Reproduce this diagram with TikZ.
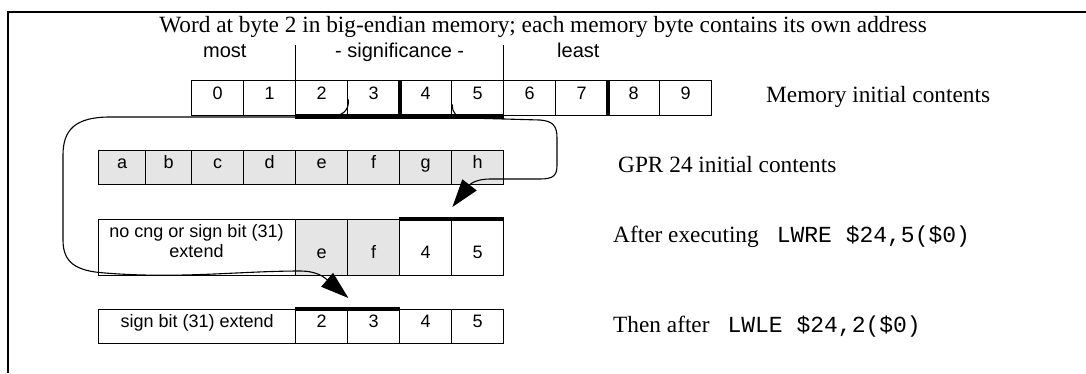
\documentclass[tikz,border=0pt]{standalone}
\usepackage{fontspec}
\setmainfont{Liberation Serif}
\setsansfont{Liberation Sans}
\setmonofont{Liberation Mono}
\usetikzlibrary{arrows.meta,calc}
\newcommand{\cellfont}{\sffamily\fontsize{18}{20}\selectfont}
\newcommand{\headfont}{\sffamily\fontsize{20}{22}\selectfont}
\newcommand{\serfont}{\rmfamily\fontsize{23.3}{26}\selectfont}
\newcommand{\codefont}{\ttfamily\fontsize{23}{26}\selectfont}
\definecolor{cellgray}{RGB}{229,229,229}
\tikzset{
  cellbox/.style={draw, line width=1.4pt, anchor=north west, inner sep=0pt,
    font=\cellfont, text height=10pt, text depth=8pt},
  lowtext/.style={text height=26pt, text depth=4pt},
  thickln/.style={line width=4.5pt},
  txt/.style={inner sep=0pt, anchor=base west},
  conn/.style={draw, line width=1.1pt, -{Triangle[length=28pt,width=18pt]}}
}
\begin{document}
\begin{tikzpicture}[x=1pt,y=-1pt]
\useasboundingbox (0,0) rectangle (1086,373);
\draw[line width=2pt] (7.5,373) -- (7.5,11.5) -- (1086,11.5);

\node[anchor=base, inner sep=0pt, font=\serfont] (title) at (543,32)
  {Word at byte 2 in big-endian memory; each memory byte contains its own address};

% memory row
\foreach \i in {0,...,9}
  \node[cellbox, minimum width=52pt, minimum height=35pt] (m\i) at (191+52*\i,80) {\i};
\draw[thickln] (m2.south west) -- (m5.south east);
\draw[line width=4pt] (m3.north east) -- (m3.south east);
\draw[line width=4pt] (m7.north east) -- (m7.south east);
\draw[line width=1pt] (m2.north west) -- ++(0,-35);
\draw[line width=1pt] (m6.north west) -- ++(0,-35);

\node[txt, font=\headfont] (lmost) at (203,57) {most};
\node[txt, font=\headfont] (lsig) at (335,57) {- significance -};
\node[txt, font=\headfont] (lleast) at (557,57) {least};

% GPR row
\foreach \n/\x/\w in {a/98/47, b/145/46, c/191/52, d/243/52, e/295/52, f/347/52, g/399/52, h/451/52}
  \node[cellbox, fill=cellgray, minimum width=\w pt, minimum height=34pt] (g\n) at (\x,150) {\n};

% row after LWRE
\node[cellbox, minimum width=197pt, minimum height=56pt] (r3x) at (98,219) {};
\node[anchor=base, inner sep=0pt, font=\cellfont] (r3xt) at (196.5,237)
  {\begin{tabular}[t]{@{}c@{}}no cng or sign bit (31)\\extend\end{tabular}};
\node[cellbox, lowtext, fill=cellgray, minimum width=52pt, minimum height=56pt] (r3ce) at (295,219) {e};
\node[cellbox, lowtext, fill=cellgray, minimum width=52pt, minimum height=56pt] (r3cf) at (347,219) {f};
\node[cellbox, lowtext, minimum width=52pt, minimum height=56pt] (r3c4) at (399,219) {4};
\node[cellbox, lowtext, minimum width=52pt, minimum height=56pt] (r3c5) at (451,219) {5};
\draw[thickln] (r3c4.north west) -- (r3c5.north east);

% row after LWLE
\node[cellbox, minimum width=197pt, minimum height=34pt] (r4x) at (98,309) {sign bit (31) extend};
\node[cellbox, minimum width=52pt, minimum height=34pt] (r4c2) at (295,309) {2};
\node[cellbox, minimum width=52pt, minimum height=34pt] (r4c3) at (347,309) {3};
\node[cellbox, minimum width=52pt, minimum height=34pt] (r4c4) at (399,309) {4};
\node[cellbox, minimum width=52pt, minimum height=34pt] (r4c5) at (451,309) {5};
\draw[thickln] (r4c2.north west) -- (r4c3.north east);

% connectors
\draw[conn] ($(m2.south east)+(0,-17)$) .. controls (349,110) and (344,117) .. (325,117)
  -- (110,117) .. controls (75,117) and (63,130) .. (63,155)
  -- (63,240) .. controls (63,262) and (75,271) .. (105,273)
  .. controls (180,279) and (240,271) .. (300,271)
  .. controls (318,271) and (325,278) .. ($(r4c2.north east)+(0,-11)$);
\draw[conn] ($(m4.south east)+(0,-12)$) .. controls (452,113) and (456,118) .. (468,118)
  -- (540,120) .. controls (553,121) and (557,126) .. (557,138)
  -- (557,165) .. controls (557,175) and (554,179) .. (540,179)
  -- (490,179) .. controls (478,179) and (471,183) .. ($(r3c4.north east)+(0,-12)$);

% right-hand labels
\node[txt, font=\serfont] (lmem) at (766,102) {Memory initial contents};
\node[txt, font=\serfont] (lgpr) at (618,172) {GPR 24 initial contents};
\node[txt, font=\serfont] (lafter) at (613,242) {After executing\hspace{18pt}{\codefont LWRE \$24,5(\$0)}};
\node[txt, font=\serfont] (lthen) at (613,332) {Then after\hspace{18pt}{\codefont LWLE \$24,2(\$0)}};
\end{tikzpicture}
\end{document}
